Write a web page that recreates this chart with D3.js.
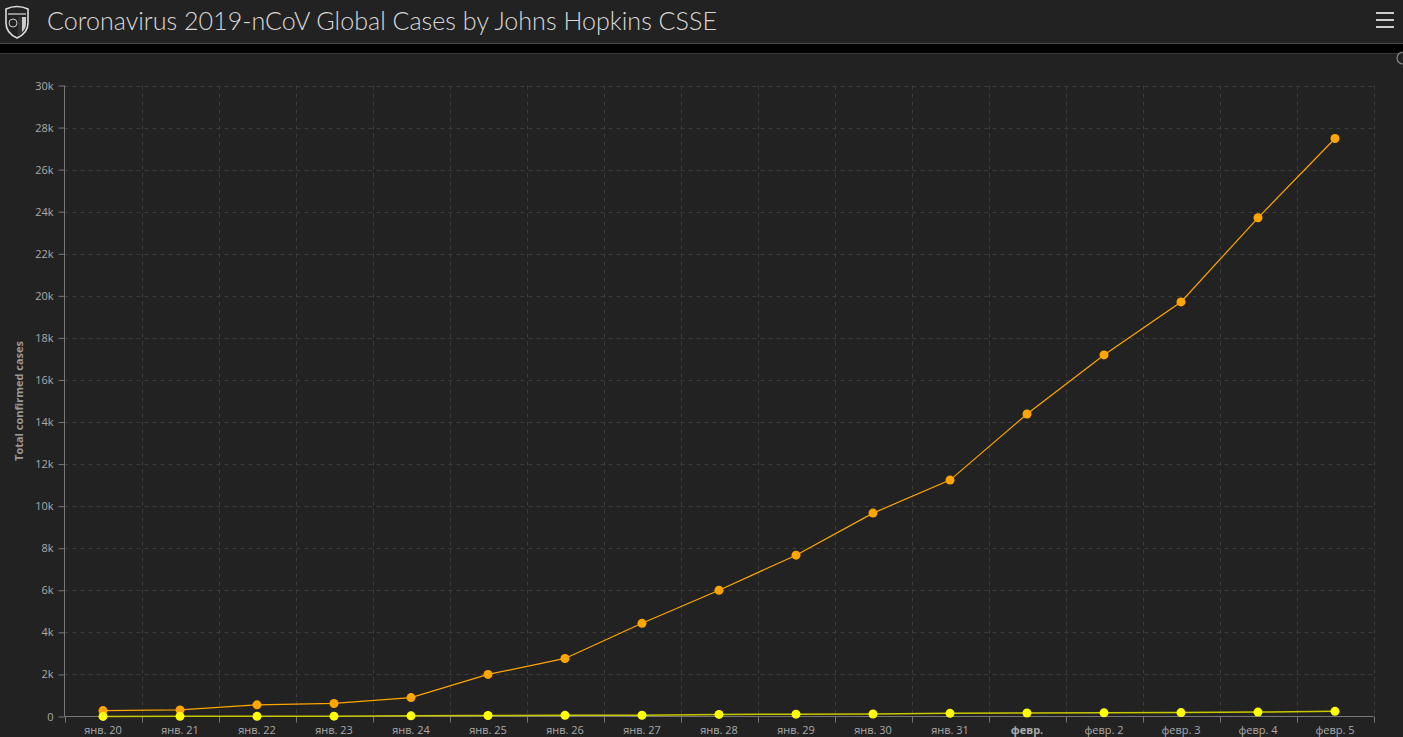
<!DOCTYPE html>
<html><head><meta charset="utf-8">
<script src="https://cdn.jsdelivr.net/npm/d3@7"></script>
<style>
html,body{margin:0;padding:0;background:#222;overflow:hidden;}
svg{display:block;}
</style></head>
<body>
<svg id="c" width="1403" height="737"></svg>
<script>
const categories = ["янв. 20","янв. 21","янв. 22","янв. 23","янв. 24","янв. 25","янв. 26","янв. 27","янв. 28","янв. 29","янв. 30","янв. 31","февр.","февр. 2","февр. 3","февр. 4","февр. 5"];
const mainlandChina = [282,314,555,620,900,2000,2760,4430,6000,7670,9670,11240,14380,17190,19710,23710,27480];
const otherLocations = [4,6,8,15,30,45,55,60,100,110,120,150,165,175,185,210,245];
const yTicks = [0,2000,4000,6000,8000,10000,12000,14000,16000,18000,20000,22000,24000,26000,28000,30000];
const titleText = "Coronavirus 2019-nCoV Global Cases by Johns Hopkins CSSE";
const yTitle = "Total confirmed cases";

const svg = d3.select("#c");
// header
svg.append("rect").attr("x",0).attr("y",0).attr("width",1403).attr("height",43).attr("fill","#222");
svg.append("rect").attr("x",0).attr("y",43).attr("width",1403).attr("height",1).attr("fill","#4a4a4a");
svg.append("rect").attr("x",0).attr("y",44).attr("width",1403).attr("height",9).attr("fill","#000");
svg.append("rect").attr("x",0).attr("y",53).attr("width",1403).attr("height",1).attr("fill","#3a3a3a");
svg.append("rect").attr("x",0).attr("y",54).attr("width",1403).attr("height",683).attr("fill","#222");

// logo shield
const lg = svg.append("g").attr("transform","translate(3,5)");
lg.append("path").attr("d","M3,4 Q14,-1 25,4 L25,18 Q25,28 14,33 Q3,28 3,18 Z").attr("fill","none").attr("stroke","#ddd").attr("stroke-width",1.6);
lg.append("path").attr("d","M5,9 L23,9").attr("stroke","#ddd").attr("stroke-width",1.2);
lg.append("circle").attr("cx",10).attr("cy",18).attr("r",4).attr("fill","none").attr("stroke","#ccc").attr("stroke-width",1);
lg.append("path").attr("d","M15,12 L23,12 L23,19 Q23,26 15,30 Z").attr("fill","#ccc");
lg.append("path").attr("d","M15,12 L19,12 L19,29 L15,30 Z").attr("fill","#333");

svg.append("text").attr("x",47).attr("y",30).attr("fill","#d8d8d8")
  .style("font-family","Lato, 'Open Sans', sans-serif").style("font-weight",300).style("font-size","26px")
  .attr("textLength",670).attr("lengthAdjust","spacingAndGlyphs").text(titleText);

// hamburger
[13,20,27].forEach(y=>svg.append("rect").attr("x",1376).attr("y",y-1).attr("width",18).attr("height",2).attr("fill","#ccc"));
// small icon at edge
svg.append("circle").attr("cx",1403).attr("cy",58).attr("r",6).attr("fill","none").attr("stroke","#888").attr("stroke-width",1.2);

const m = {l:64.5, r:1373.5, t:85.5, b:716.5};
const x = d3.scaleBand().domain(categories).range([m.l, m.r]);
const y = d3.scaleLinear().domain([0,30000]).range([m.b, m.t]);

const font = "'Open Sans', Lato, sans-serif";
// grid
const g = svg.append("g");
g.selectAll(".hg").data(yTicks.filter(d=>d>0)).join("line")
  .attr("x1",m.l).attr("x2",m.r).attr("y1",d=>Math.round(y(d))+0.5).attr("y2",d=>Math.round(y(d))+0.5)
  .attr("stroke","#3c3c3c").attr("stroke-dasharray","4,4");
const boundaries = categories.slice(1).map(c=>x(c)).concat([m.r]);
g.selectAll(".vg").data(boundaries).join("line")
  .attr("x1",d=>Math.round(d)+0.5).attr("x2",d=>Math.round(d)+0.5).attr("y1",m.t).attr("y2",m.b)
  .attr("stroke","#3c3c3c").attr("stroke-dasharray","4,4");

// y axis
const ya = svg.append("g").attr("transform",`translate(${m.l},0)`)
  .call(d3.axisLeft(y).tickValues(yTicks).tickSize(6).tickPadding(5).tickFormat(d=>d===0?"0":(d/1000)+"k"));
ya.select(".domain").attr("stroke","#777").attr("d",`M0,${m.t}V${m.b}`);
ya.selectAll(".tick line").attr("stroke","#777");
ya.selectAll(".tick text").attr("fill","#aaa").style("font-family",font).style("font-size","11px");

// x axis
const xa = svg.append("g").attr("transform",`translate(0,${m.b})`)
  .call(d3.axisBottom(x).tickSize(0).tickPadding(10));
xa.select(".domain").attr("stroke","#777").attr("d",`M${m.l},0H${m.r}`);
xa.selectAll(".tick text").attr("fill","#aaa").style("font-family",font).style("font-size","11px")
  .style("font-weight",d=>d==="февр."?"bold":"normal");
svg.append("g").selectAll("line").data([m.l].concat(boundaries)).join("line")
  .attr("x1",d=>Math.round(d)+0.5).attr("x2",d=>Math.round(d)+0.5).attr("y1",m.b).attr("y2",m.b+6)
  .attr("stroke","#777");

svg.append("text").attr("transform",`translate(23,${(m.t+m.b)/2}) rotate(-90)`).attr("text-anchor","middle")
  .attr("fill","#999").style("font-family",font).style("font-size","11px").style("font-weight","bold").text(yTitle);

// series
const line = d3.line().x((d,i)=>x(categories[i])+x.bandwidth()/2).y(d=>y(d));
svg.append("path").datum(otherLocations).attr("d",line).attr("fill","none").attr("stroke","#c8c800").attr("stroke-width",1.5);
svg.append("path").datum(mainlandChina).attr("d",line).attr("fill","none").attr("stroke","#ffa500").attr("stroke-width",1.2);
svg.append("g").selectAll("circle").data(mainlandChina).join("circle")
  .attr("cx",(d,i)=>x(categories[i])+x.bandwidth()/2).attr("cy",d=>y(d)).attr("r",4.5).attr("fill","#ffa500");
svg.append("g").selectAll("circle").data(otherLocations).join("circle")
  .attr("cx",(d,i)=>x(categories[i])+x.bandwidth()/2).attr("cy",d=>y(d)).attr("r",4.5).attr("fill","#ffff00");
</script>
</body></html>
